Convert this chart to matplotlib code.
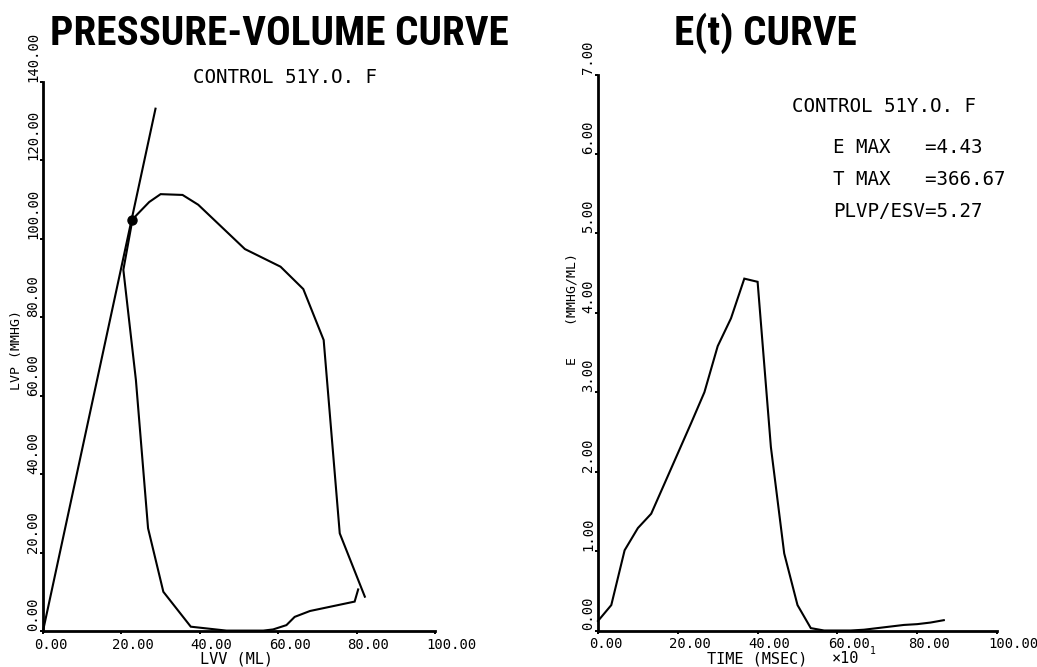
import matplotlib
matplotlib.use("Agg")
import matplotlib.pyplot as plt
from matplotlib import font_manager
from matplotlib.transforms import blended_transform_factory, offset_copy

# ---------------- data ----------------
pv_volume = [82.1, 75.7, 71.6, 66.4, 60.6, 51.5, 39.6, 35.6, 30.0, 27.1, 23.9, 22.8,
             20.5, 23.7, 26.8, 30.7, 37.7, 46.8, 56.2, 58.7, 62.1, 64.2, 68.1, 79.5, 80.4]
pv_pressure = [8.75, 24.9, 74.2, 87.2, 92.9, 97.4, 108.7, 111.2, 111.4, 109.4, 106.1, 104.8,
               92.1, 64.0, 26.2, 10.0, 1.1, 0.1, 0.1, 0.4, 1.5, 3.6, 5.1, 7.5, 10.6]
espvr_volume = [0.0, 28.7]
espvr_pressure = [0.0, 133.2]
es_point_volume = [22.8]
es_point_pressure = [104.8]

time_x10 = [0.0, 3.33, 6.67, 10.0, 13.33, 16.67, 20.0, 23.33, 26.67, 30.0, 33.33, 36.67,
            40.0, 43.33, 46.67, 50.0, 53.33, 56.67, 60.0, 63.33, 66.67, 70.0, 73.33,
            76.67, 80.0, 83.33, 86.67]
elastance = [0.12, 0.32, 1.01, 1.29, 1.47, 1.85, 2.23, 2.61, 3.00, 3.58, 3.93, 4.43,
             4.39, 2.31, 0.97, 0.32, 0.03, 0.0, 0.0, 0.0, 0.01, 0.03, 0.05, 0.07,
             0.08, 0.10, 0.13]

pv_xticks = [0, 20, 40, 60, 80, 100]
pv_yticks = [0, 20, 40, 60, 80, 100, 120, 140]
e_xticks = [0, 20, 40, 60, 80, 100]
e_yticks = [0, 1, 2, 3, 4, 5, 6, 7]

left_title = "PRESSURE-VOLUME CURVE"
right_title = "E(t) CURVE"
subject = "CONTROL 51Y.O. F"
stats = ["E MAX   =4.43", "T MAX   =366.67", "PLVP/ESV=5.27"]

# ---------------- figure ----------------
W, H = 1037, 667
fig = plt.figure(figsize=(W / 100, H / 100), dpi=100)
fig.patch.set_facecolor("white")

MONO = "DejaVu Sans Mono"


def has_font(name):
    try:
        font_manager.findfont(font_manager.FontProperties(family=name),
                              fallback_to_default=False)
        return True
    except Exception:
        return False


TITLE_FONT = "Liberation Sans"
for cand in ("Roboto Condensed", "Liberation Sans Narrow", "Liberation Sans"):
    if has_font(cand):
        TITLE_FONT = cand
        break


def fx(px):
    return px / W


def fy(py):
    return 1 - py / H


def setup_axes(rect, xlim, ylim, xticks, yticks):
    ax = fig.add_axes(rect)
    ax.set_xlim(*xlim)
    ax.set_ylim(*ylim)
    for s in ("top", "right"):
        ax.spines[s].set_visible(False)
    for s in ("left", "bottom"):
        ax.spines[s].set_linewidth(2.0)
        ax.spines[s].set_color("black")
    ax.set_xticks(xticks)
    ax.set_yticks(yticks)
    ax.tick_params(direction="out", length=2.5, width=1.4, labelbottom=False,
                   labelleft=False, colors="black")
    ax.set_facecolor("white")
    ytr = offset_copy(blended_transform_factory(ax.transAxes, ax.transData), fig=fig,
                      x=-3, y=0, units="dots")
    for v in yticks:
        ax.text(0, v, f"{v:.2f}", transform=ytr, rotation=90, ha="right", va="bottom",
                fontsize=10, family=MONO, color="black", clip_on=False)
    xtr = offset_copy(blended_transform_factory(ax.transData, ax.transAxes), fig=fig,
                      x=-9, y=-7, units="dots")
    for v in xticks:
        ax.text(v, 0, f"{v:.2f}", transform=xtr, ha="left", va="top",
                fontsize=10, family=MONO, color="black", clip_on=False)
    return ax


# left panel
ax1 = setup_axes([fx(43), 1 - 631 / H, (435 - 43) / W, (631 - 82) / H],
                 (0, 100), (0, 140), pv_xticks, pv_yticks)
ax1.plot(pv_volume, pv_pressure, color="black", lw=1.5, clip_on=False,
         solid_joinstyle="miter")
ax1.plot(espvr_volume, espvr_pressure, color="black", lw=1.5, clip_on=False)
ax1.plot(es_point_volume, es_point_pressure, "o", color="black", ms=6.5, clip_on=False)

# right panel
ax2 = setup_axes([fx(598), 1 - 630.5 / H, (997 - 598) / W, (630.5 - 74.5) / H],
                 (0, 100), (0, 7), e_xticks, e_yticks)
ax2.plot(time_x10, elastance, color="black", lw=1.5, clip_on=False,
         solid_joinstyle="miter")

# titles, sized to fit the reference width (about 458 px for the left one)
t1 = fig.text(fx(279), fy(45), left_title, ha="center", va="baseline", fontsize=29,
              fontweight="bold", family=TITLE_FONT)
t2 = fig.text(fx(765), fy(45), right_title, ha="center", va="baseline", fontsize=29,
              fontweight="bold", family=TITLE_FONT)
renderer = fig.canvas.get_renderer()
w1 = t1.get_window_extent(renderer).width
size = min(32, 29 * 458 / w1)
t1.set_fontsize(size)
t2.set_fontsize(size)

# annotations
fig.text(fx(193), fy(83), subject, ha="left", va="baseline", fontsize=13.8, family=MONO)
fig.text(fx(792), fy(112), subject, ha="left", va="baseline", fontsize=13.8, family=MONO)
for s, base in zip(stats, [153, 185, 217]):
    fig.text(fx(833), fy(base), s, ha="left", va="baseline", fontsize=13.8, family=MONO)

# axis labels
fig.text(fx(200), fy(663), "LVV (ML)", ha="left", va="baseline", fontsize=11, family=MONO)
fig.text(fx(707), fy(663), "TIME (MSEC)", ha="left", va="baseline", fontsize=11, family=MONO)
fig.text(fx(832), fy(663), "\u00d710", ha="left", va="baseline", fontsize=11, family=MONO)
fig.text(fx(870), fy(654), "1", ha="left", va="baseline", fontsize=7, family=MONO)
fig.text(fx(17), fy(390), "LVP (MMHG)", ha="center", va="bottom", rotation=90,
         fontsize=9.5, family=MONO)
fig.text(fx(572), fy(365), "E    (MMHG/ML)", ha="center", va="bottom", rotation=90,
         fontsize=9.5, family=MONO)

fig.savefig("out.png", dpi=100, facecolor="white")
